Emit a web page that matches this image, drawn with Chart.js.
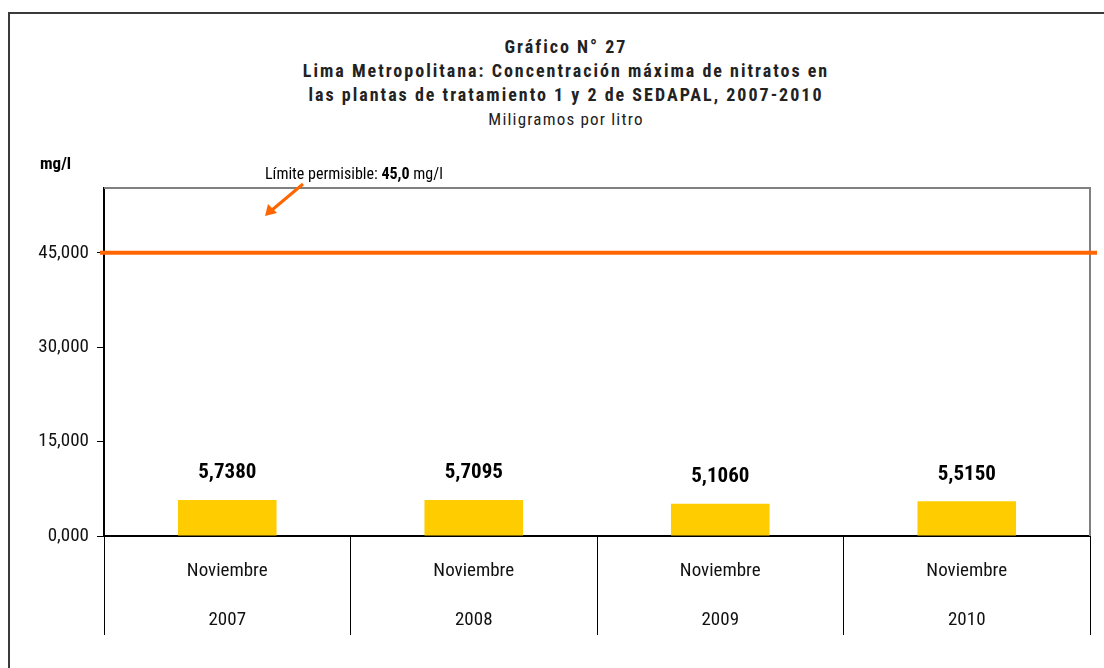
<!DOCTYPE html>
<html lang="es">
<head>
<meta charset="utf-8">
<title>Gráfico N° 27</title>
<script src="https://cdn.jsdelivr.net/npm/chart.js@4/dist/chart.umd.min.js"></script>
<style>
  html, body {
    margin: 0;
    padding: 0;
    background: #fff;
    width: 1104px;
    height: 668px;
    overflow: hidden;
  }
  #frame {
    position: absolute;
    left: 8px;
    top: 12px;
    width: 1200px;
    height: 700px;
    border-left: 2px solid #3a3a3a;
    border-top: 2px solid #3a3a3a;
  }
  #titles {
    position: absolute;
    left: 0;
    top: 35px;
    width: 1132px;
    text-align: center;
    font-family: "Roboto Condensed", "Liberation Sans Narrow", sans-serif;
    font-size: 18px;
    line-height: 24px;
    color: #222;
    letter-spacing: 2px;
  }
  #titles .b { font-weight: bold; }
  #titles .sub { font-size: 17px; letter-spacing: 1.2px; }
  #chart {
    position: absolute;
    left: 0;
    top: 0;
  }
</style>
</head>
<body>
<div id="frame"></div>
<div id="titles">
  <div class="b">Gráfico N° 27</div>
  <div class="b">Lima Metropolitana: Concentración máxima de nitratos en</div>
  <div class="b">las plantas de tratamiento 1 y 2 de SEDAPAL, 2007-2010</div>
  <div class="sub">Miligramos por litro</div>
</div>
<canvas id="chart" width="1104" height="668"></canvas>

<script>
// Data
const MONTHS = ["Noviembre", "Noviembre", "Noviembre", "Noviembre"];
const YEARS = ["2007", "2008", "2009", "2010"];
const NITRATES = [5.738, 5.7095, 5.106, 5.515];
const LIMIT = 45;
const Y_TICKS = [0, 15, 30, 45];
const Y_MAX = 55.3;

const FONT = '"Roboto Condensed", "Liberation Sans Narrow", sans-serif';
const BAR_COLOR = "#FFCC00";
const LIMIT_COLOR = "#FF6600";

// comma as decimal separator
function fmt(value, digits) {
  return value.toFixed(digits).replace(".", ",");
}

const decorPlugin = {
  id: "decor",
  afterDatasetsDraw(chart) {
    const { ctx, chartArea, scales } = chart;
    ctx.save();

    // grey top/right frame of the plot area
    ctx.strokeStyle = "#808080";
    ctx.lineWidth = 2;
    ctx.beginPath();
    ctx.moveTo(chartArea.left, chartArea.top);
    ctx.lineTo(chartArea.right, chartArea.top);
    ctx.lineTo(chartArea.right, chartArea.bottom);
    ctx.stroke();

    // limit line
    const yLimit = scales.y.getPixelForValue(LIMIT);
    ctx.strokeStyle = LIMIT_COLOR;
    ctx.lineWidth = 4;
    ctx.beginPath();
    ctx.moveTo(chartArea.left - 4, yLimit);
    ctx.lineTo(chartArea.right + 7, yLimit);
    ctx.stroke();

    // value labels
    ctx.fillStyle = "#000";
    ctx.font = "bold 21px " + FONT;
    ctx.textAlign = "center";
    ctx.textBaseline = "middle";
    chart.getDatasetMeta(0).data.forEach((bar, i) => {
      ctx.fillText(fmt(NITRATES[i], 4), bar.x, bar.y - 27);
    });

    // unit label
    ctx.textAlign = "left";
    ctx.font = "bold 17px " + FONT;
    ctx.fillText("mg/l", 40, 165);

    // annotation
    let x = 265;
    const parts = [
      ["Límite permisible: ", "16px "],
      [fmt(LIMIT, 1), "bold 16px "],
      [" mg/l", "16px "],
    ];
    parts.forEach(([text, weight]) => {
      ctx.font = weight + FONT;
      ctx.fillText(text, x, 175);
      x += ctx.measureText(text).width;
    });

    // arrow
    ctx.strokeStyle = LIMIT_COLOR;
    ctx.fillStyle = LIMIT_COLOR;
    ctx.lineWidth = 3;
    ctx.beginPath();
    ctx.moveTo(303, 184);
    ctx.lineTo(272, 210);
    ctx.stroke();
    ctx.beginPath();
    ctx.moveTo(265, 216);
    ctx.lineTo(268, 204);
    ctx.lineTo(277, 213);
    ctx.closePath();
    ctx.fill();

    ctx.restore();
  },
};

const ctx = document.getElementById("chart").getContext("2d");

new Chart(ctx, {
  type: "bar",
  data: {
    labels: YEARS.map((year, i) => [MONTHS[i], year]),
    datasets: [
      {
        data: NITRATES,
        backgroundColor: BAR_COLOR,
        barPercentage: 0.4,
        categoryPercentage: 1,
      },
    ],
  },
  options: {
    responsive: false,
    animation: false,
    layout: {
      padding: { top: 188, left: 24, right: 14, bottom: 22 },
    },
    plugins: {
      legend: { display: false },
      title: { display: false },
      tooltip: { enabled: false },
    },
    scales: {
      x: {
        grid: {
          offset: true,
          drawOnChartArea: false,
          tickLength: 99,
          color: "#000",
          lineWidth: 1,
        },
        border: { color: "#000", width: 2 },
        ticks: {
          color: "#111",
          padding: -88.5,
          maxRotation: 0,
          font: { family: FONT, size: 19, lineHeight: 49 / 19 },
        },
        afterFit(scale) {
          scale.height = 110;
        },
      },
      y: {
        min: 0,
        max: Y_MAX,
        grid: {
          drawOnChartArea: false,
          tickLength: 7,
          color: "#000",
        },
        border: { color: "#000", width: 2 },
        ticks: {
          color: "#111",
          padding: 8,
          font: { family: FONT, size: 19 },
          callback: (value) => fmt(value, 3),
        },
        afterBuildTicks(scale) {
          scale.ticks = Y_TICKS.map((v) => ({ value: v }));
        },
        afterFit(scale) {
          scale.width = 80;
        },
      },
    },
  },
  plugins: [decorPlugin],
});
</script>
</body>
</html>
